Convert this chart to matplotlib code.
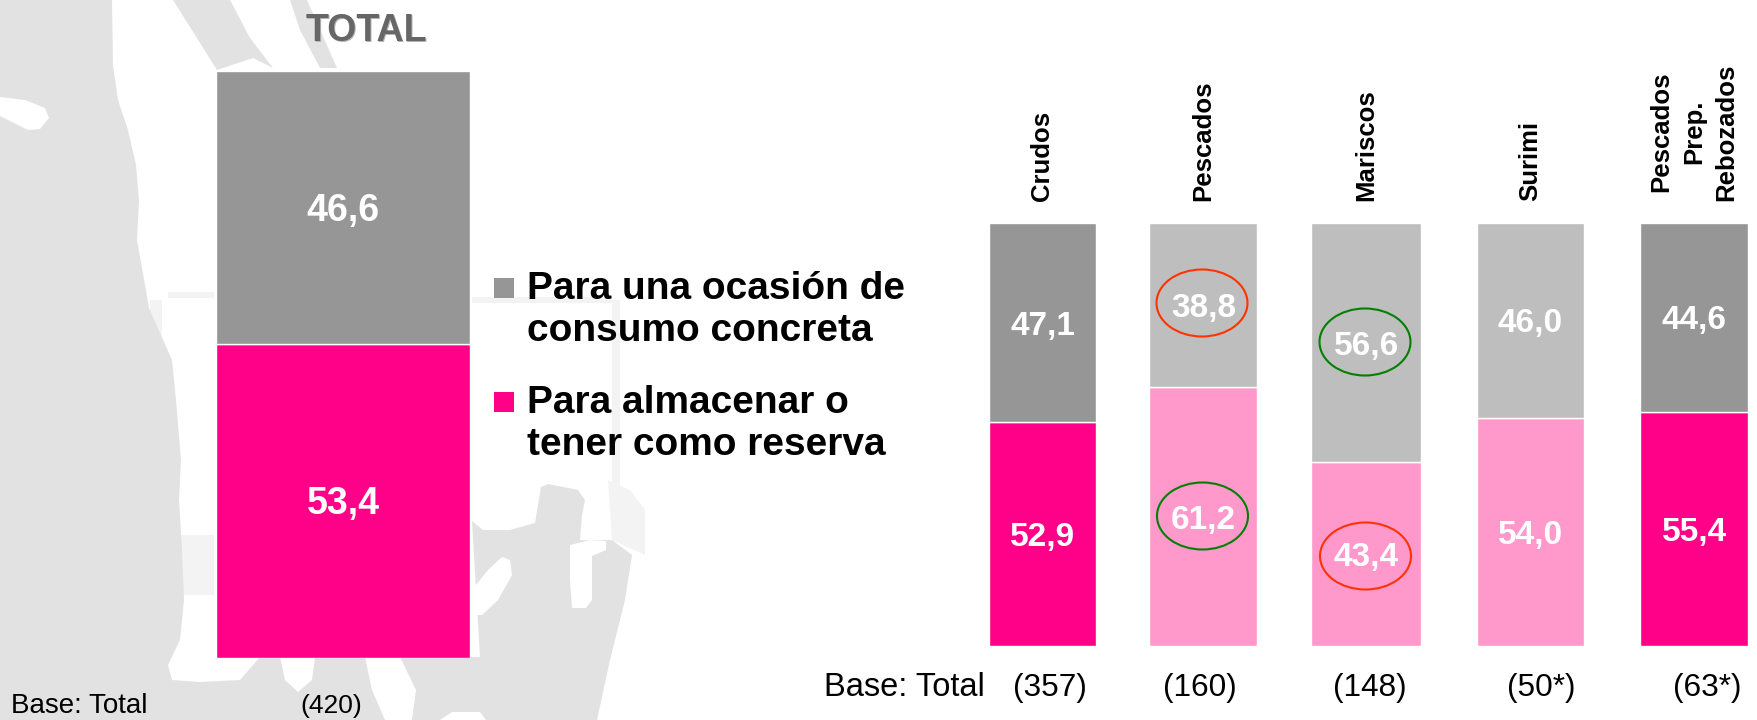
import matplotlib as mpl
mpl.use('Agg')
import matplotlib.pyplot as plt
from matplotlib.patches import Polygon, Rectangle, Ellipse

plt.rcParams['font.family'] = ['Liberation Sans', 'DejaVu Sans']

total_conc = [46.6]
total_res = [53.4]
cats = ['Crudos', 'Pescados', 'Mariscos', 'Surimi', 'Pescados\nPrep.\nRebozados']
conc = [47.1, 38.8, 56.6, 46.0, 44.6]
res = [52.9, 61.2, 43.4, 54.0, 55.4]
bases = ['(357)', '(160)', '(148)', '(50*)', '(63*)']
legend_labels = ['Para una ocasión de\nconsumo concreta', 'Para almacenar o\ntener como reserva']

GRAY = '#969696'
PINK = '#ff0088'
LGRAY = '#bebebe'
LPINK = '#ff99cc'
MAP = '#e2e2e2'
PALE = '#f3f3f3'
W, H = 1758, 720


def px_axes(fig, left, top, right, bottom, **kw):
    return fig.add_axes([left / W, 1 - bottom / H, (right - left) / W, (bottom - top) / H], **kw)


def fmt(v):
    return f'{v:.1f}'.replace('.', ',')


def value_label(ax, x, y, v, size):
    ax.annotate(fmt(v), (x, y), xytext=(0, -2.5), textcoords='offset points', color='white',
                fontsize=size, fontweight='bold', ha='center', va='center')


fig = plt.figure(figsize=(W / 100, H / 100), dpi=100)

# faded map behind everything, in pixel coords
bg = px_axes(fig, 0, 0, W, H, zorder=0)
bg.set_xlim(0, W)
bg.set_ylim(H, 0)
bg.axis('off')
for x0, y0, w, h in [(168, 292, 46, 6), (472, 297, 140, 6), (612, 300, 8, 190), (150, 300, 12, 50), (176, 535, 38, 60)]:
    bg.add_patch(Rectangle((x0, y0), w, h, fc=PALE, ec='none'))
bg.add_patch(Polygon([(608, 480), (630, 490), (645, 510), (645, 555), (612, 540)], closed=True, fc=PALE, ec='none'))
land = [
    [(0, 0), (112, 0), (113, 65), (118, 100), (128, 130), (136, 165), (139, 200), (137, 240),
     (145, 285), (149, 308), (172, 360), (176, 400), (181, 460), (179, 500), (182, 550), (184, 600),
     (180, 640), (168, 665), (172, 680), (200, 682), (240, 680), (260, 657), (480, 657), (472, 521),
     (483, 530), (510, 530), (535, 523), (541, 487), (548, 484), (578, 490), (585, 500), (582, 515),
     (580, 540), (612, 540), (632, 555), (625, 600), (610, 660), (597, 720), (0, 720)],
    [(173, 0), (230, 0), (250, 38), (273, 68), (253, 58), (217, 70)],
    [(290, 0), (307, 0), (337, 68), (320, 68), (300, 30)],
]
for pts in land:
    bg.add_patch(Polygon(pts, closed=True, fc=MAP, ec='none'))
holes = [
    [(0, 97), (25, 100), (45, 108), (49, 118), (40, 129), (28, 130), (12, 122), (0, 116)],
    [(488, 570), (502, 557), (510, 560), (512, 575), (498, 600), (482, 615), (472, 615), (472, 590)],
    [(570, 545), (590, 540), (606, 541), (606, 550), (592, 556), (592, 600), (586, 608), (572, 608), (570, 580)],
    [(280, 657), (315, 657), (312, 680), (298, 692), (285, 680)],
    [(365, 657), (400, 657), (416, 690), (412, 720), (385, 720), (372, 690)],
    [(440, 720), (452, 712), (480, 712), (486, 720)],
]
for pts in holes:
    bg.add_patch(Polygon(pts, closed=True, fc='white', ec='none'))

# total bar
ax1 = px_axes(fig, 216, 71, 470, 657.5, zorder=1)
ax1.bar([0], total_res, width=1, color=PINK, edgecolor='white', linewidth=1)
ax1.bar([0], total_conc, width=1, bottom=total_res, color=GRAY, edgecolor='white', linewidth=1)
ax1.set_xlim(-0.5, 0.5)
ax1.set_ylim(0, 100)
ax1.axis('off')
value_label(ax1, 0, total_res[0] / 2, total_res[0], 27)
value_label(ax1, 0, total_res[0] + total_conc[0] / 2, total_conc[0], 27)

# breakdown bars, the pale ones are Pescados, Mariscos and Surimi
ax2 = px_axes(fig, 961, 223, 1756, 646, zorder=1)
top_cols = [GRAY, LGRAY, LGRAY, LGRAY, GRAY]
bot_cols = [PINK, LPINK, LPINK, LPINK, PINK]
xs = [0, 0.987, 1.987, 2.995, 4]
widths = [0.66, 0.66, 0.675, 0.66, 0.66]
ax2.bar(xs, res, width=widths, color=bot_cols, edgecolor='white', linewidth=1)
ax2.bar(xs, conc, width=widths, bottom=res, color=top_cols, edgecolor='white', linewidth=1)
ax2.set_xlim(-0.5, 4.38)
ax2.set_ylim(0, 100)
for s in ax2.spines.values():
    s.set_visible(False)
ax2.yaxis.set_visible(False)
ax2.patch.set_alpha(0)
ax2.xaxis.tick_top()
ax2.set_xticks(xs)
ax2.set_xticklabels(cats, rotation=90, fontsize=18.5, fontweight='bold', linespacing=1.45)
ax2.tick_params(axis='x', length=0, pad=16)
for i, x in enumerate(xs):
    value_label(ax2, x, res[i] / 2, res[i], 24)
    value_label(ax2, x, res[i] + conc[i] / 2, conc[i], 24)

# overlay: title, legend, base row, highlight rings
ov = px_axes(fig, 0, 0, W, H, zorder=2)
ov.set_xlim(0, W)
ov.set_ylim(H, 0)
ov.axis('off')
ov.text(367.5, 32.5, 'TOTAL', color='#b4b4b4', fontsize=27, fontweight='bold', ha='center', va='center')
ov.text(366, 31, 'TOTAL', color='#666666', fontsize=27, fontweight='bold', ha='center', va='center')

ov.add_patch(Rectangle((494, 278), 20, 20, fc=GRAY, ec='none'))
ov.add_patch(Rectangle((494, 392), 20, 20, fc=PINK, ec='none'))
ov.text(527, 310, legend_labels[0], fontsize=28, fontweight='bold', ha='left', va='center', linespacing=1.21)
ov.text(527, 424, legend_labels[1], fontsize=28, fontweight='bold', ha='left', va='center', linespacing=1.21)

ov.text(11, 706, 'Base: Total', fontsize=20, ha='left', va='center')
ov.text(331, 706, '(420)', fontsize=19, ha='center', va='center')
ov.text(824, 688, 'Base: Total', fontsize=23.5, ha='left', va='center')
for x, b in zip([1050, 1200, 1370, 1541, 1707], bases):
    ov.text(x, 688, b, fontsize=22.8, ha='center', va='center')

for x, y, col in [(1202, 303, '#ff3300'), (1202.5, 516, '#008000'), (1365, 342, '#008000'), (1365.5, 556, '#ff3300')]:
    ov.add_patch(Ellipse((x, y), 91, 67, fc='none', ec=col, lw=1.5))

fig.savefig('out.png', dpi=100)
